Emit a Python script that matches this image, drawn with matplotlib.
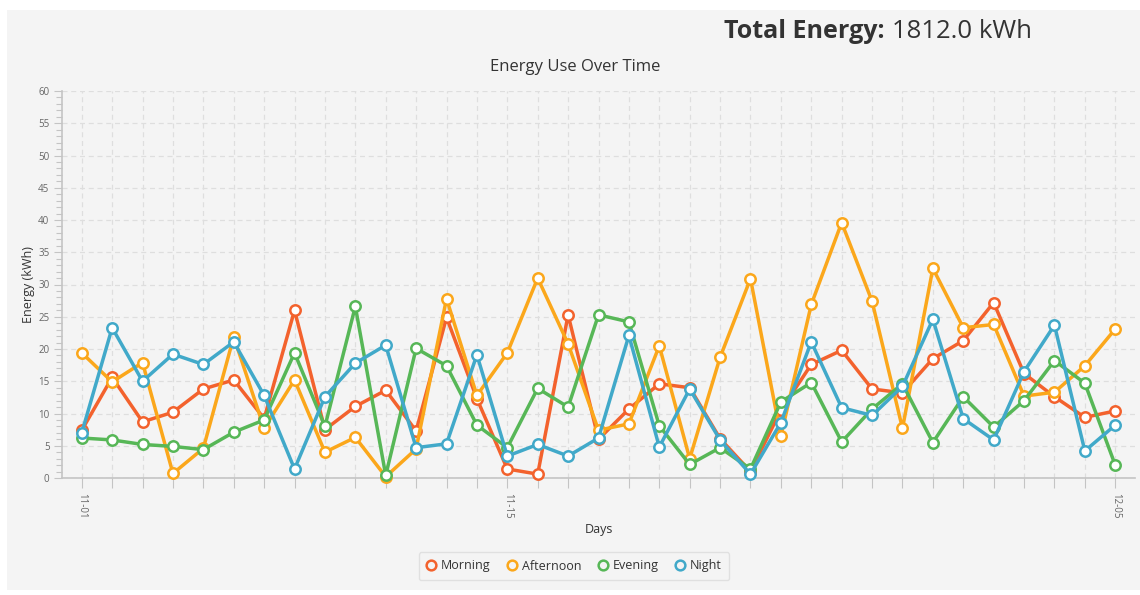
import matplotlib.pyplot as plt
from matplotlib.lines import Line2D
from matplotlib.patches import Rectangle
import numpy as np

plt.rcParams['font.family'] = ['Open Sans', 'DejaVu Sans']

days = ['11-%02d' % d for d in range(1, 31)] + ['12-%02d' % d for d in range(1, 6)]
shown_days = ['11-01', '11-15', '12-05']

morning = [7.4, 15.6, 8.7, 10.2, 13.8, 15.2, 9.2, 26.0, 7.5, 11.1,
           13.6, 7.3, 24.9, 12.3, 1.4, 0.6, 25.3, 6.0, 10.7, 14.6,
           14.0, 6.1, 1.0, 10.5, 17.6, 19.8, 13.8, 13.2, 18.5, 21.3,
           27.2, 16.2, 12.6, 9.4, 10.4]
afternoon = [19.4, 14.9, 17.9, 0.7, 4.6, 21.9, 7.7, 15.2, 4.0, 6.3,
             0.2, 4.5, 27.8, 12.8, 19.4, 31.0, 20.8, 7.4, 8.4, 20.5,
             3.0, 18.7, 30.9, 6.5, 26.9, 39.6, 27.4, 7.7, 32.5, 23.3,
             23.8, 12.7, 13.3, 17.4, 23.1]
evening = [6.2, 5.9, 5.2, 4.9, 4.4, 7.1, 9.0, 19.4, 8.0, 26.6,
           0.4, 20.1, 17.4, 8.2, 4.7, 13.9, 11.0, 25.3, 24.2, 8.1,
           2.1, 4.7, 1.4, 11.8, 14.8, 5.6, 10.7, 14.6, 5.5, 12.6,
           7.9, 12.0, 18.2, 14.7, 2.0]
night = [7.0, 23.3, 15.0, 19.2, 17.6, 21.1, 12.8, 1.4, 12.6, 17.8,
         20.6, 4.7, 5.3, 19.1, 3.4, 5.2, 3.4, 6.2, 22.1, 4.8,
         13.8, 5.9, 0.6, 8.6, 21.1, 10.9, 9.7, 14.2, 24.6, 9.2,
         5.9, 16.5, 23.7, 4.2, 8.2]

series_names = ['Morning', 'Afternoon', 'Evening', 'Night']
series_values = [morning, afternoon, evening, night]
colors = ['#f3622d', '#fba71b', '#57b757', '#41a9c9']

W, H = 1140, 595
fig = plt.figure(figsize=(W / 100, H / 100), dpi=100, facecolor='white')
fig.patches.append(Rectangle((7 / W, 5 / H), 1, (580) / H, transform=fig.transFigure,
                             facecolor='#f4f4f4', edgecolor='none', zorder=-10))

ax = fig.add_axes([62 / W, (H - 478) / H, (1135 - 62) / W, (478 - 91) / H])
ax.set_facecolor('none')

x = np.arange(len(days))
for name, vals, c in zip(series_names, series_values, colors):
    ax.plot(x, vals, color=c, lw=2.5, marker='o', ms=7.5, mfc='white',
            mec=c, mew=1.8, label=name, zorder=3, clip_on=False)

ax.set_xlim(-0.65, len(days) - 1 + 0.65)
ax.set_ylim(0, 60)
ax.set_xticks(x)
ax.set_xticklabels([d if d in shown_days else '' for d in days],
                   rotation=-90, fontsize=7, color='#666666')
ax.set_yticks(np.arange(0, 61, 5))
ax.set_yticks(np.arange(0, 61, 1), minor=True)
ax.tick_params(axis='y', which='major', length=6, width=0.8, color='#c4c4c4',
               labelsize=7, labelcolor='#666666', pad=3)
ax.tick_params(axis='y', which='minor', length=4, width=0.8, color='#c4c4c4')
ax.tick_params(axis='x', which='major', length=7, width=0.8, color='#c4c4c4', pad=4)

for s in ['top', 'right']:
    ax.spines[s].set_visible(False)
for s in ['left', 'bottom']:
    ax.spines[s].set_color('#c4c4c4')
    ax.spines[s].set_linewidth(1.2)

ax.grid(True, which='major', color='#dedede', lw=0.9, linestyle=(0, (4, 3)))
ax.set_axisbelow(True)

ax.set_xlabel('Days', fontsize=9, color='#333333', labelpad=3)
ax.set_ylabel('Energy (kWh)', fontsize=9, color='#333333', labelpad=2)
fig.text(575 / W, 1 - 67 / H, 'Energy Use Over Time', fontsize=12, color='#333333',
         ha='center', va='center')

fig.text(884 / W, 1 - 31 / H, 'Total Energy:', fontsize=18, fontweight='bold',
         color='#333333', ha='right', va='center')
fig.text(892 / W, 1 - 31 / H, '1812.0 kWh', fontsize=18.5,
         color='#333333', ha='left', va='center')

handles = [Line2D([], [], color=c, lw=0, marker='o', ms=7, mfc='#f4f4f4', mec=c, mew=1.8)
           for c in colors]
leg = fig.legend(handles, series_names, loc='center', bbox_to_anchor=(574 / W, 1 - 566 / H),
                 ncol=4, fontsize=9, frameon=True, facecolor='#f4f4f4', edgecolor='#dcdcdc',
                 handlelength=0.8, handletextpad=0.4, columnspacing=1.3, borderpad=0.6)
for t in leg.get_texts():
    t.set_color('#333333')

fig.savefig('out.png', dpi=100, facecolor='white')
